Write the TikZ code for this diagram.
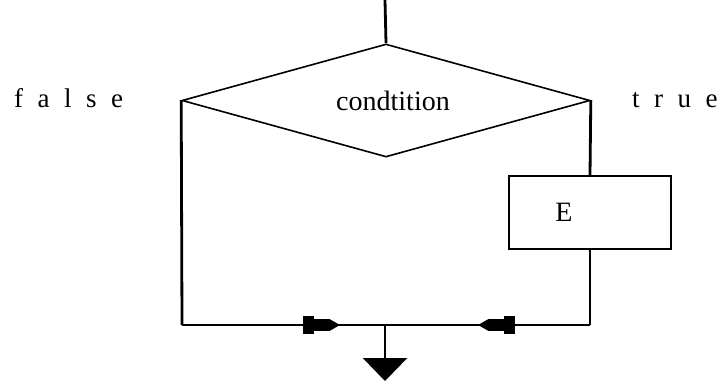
\documentclass[tikz,border=0pt]{standalone}
\usepackage{fontspec}
\setmainfont{Liberation Serif}
\usetikzlibrary{shapes.geometric,arrows.meta}
\newcommand\widespacing{\spaceskip=14.5pt\relax}
\begin{document}
\begin{tikzpicture}[x=1pt,y=-1pt,
  dec/.style={diamond, draw, line width=1.6pt, minimum width=408pt, minimum height=113pt, inner sep=0pt, aspect=3.6},
  ebox/.style={rectangle, draw, line width=1.8pt, minimum width=162pt, minimum height=73pt, inner sep=0pt},
  flow/.style={line width=2.8pt},
  thinline/.style={line width=1.8pt},
  txt/.style={font={\fontsize{28}{32}\selectfont}},
  spaced/.style={font={\fontsize{27}{30}\selectfont\widespacing}},
  midarrow/.style={thinline, -{Rectangle[length=11pt,width=18pt]Rectangle[length=15pt,width=12pt]Triangle[length=11pt,width=12pt]}},
  downarrow/.style={flow, -{Triangle[length=23pt,width=44pt]}}
]
\useasboundingbox (0,0) rectangle (728,383);
\coordinate (top) at (385,0);
\node[dec, label={[txt, xshift=7pt]center:condtition}] (c) at (386,100.5) {};
\node[ebox, label={[txt, xshift=-26pt]center:E}] (e) at (590,212.5) {};
\coordinate (bl) at (182,325);
\coordinate (br) at (590,325);
\coordinate (mid) at (385,325);
\coordinate (al) at (340,325);
\coordinate (ar) at (478,325);
\coordinate (bot) at (385,381);
\node[spaced, anchor=base west, inner sep=0pt] (f) at (14,107) {f a l s e};
\node[spaced, anchor=base west, inner sep=0pt] (t) at (632,107) {t r u e};
\draw[flow] (top) -- (c.north);
\draw[flow] (c.west) -- (bl);
\draw[flow] (c.east) -- (e.north);
\draw[flow] (e.south) -- (br);
\draw[thinline] (bl) -- (br);
\draw[midarrow] (bl) -- (al);
\draw[midarrow] (br) -- (ar);
\draw[downarrow] (mid) -- (bot);
\end{tikzpicture}
\end{document}
